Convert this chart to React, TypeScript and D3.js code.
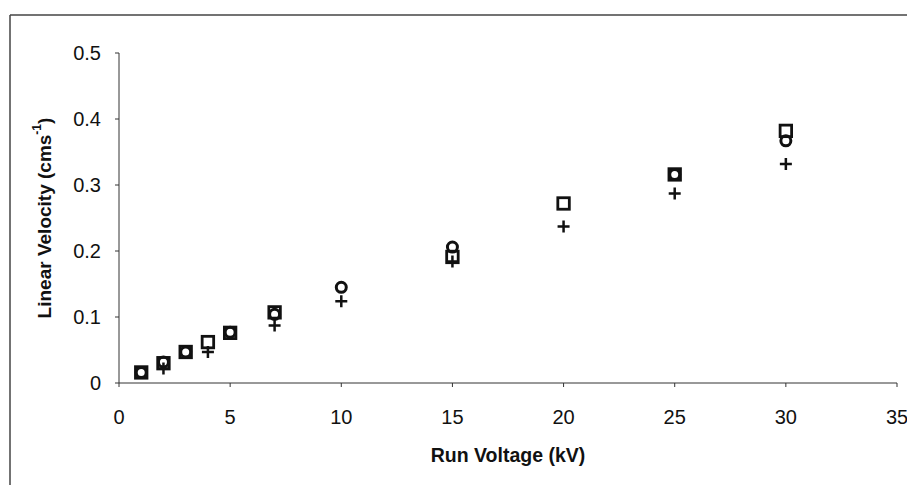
import React from "react";
import * as d3 from "d3";

const squareX = [1, 2, 3, 4, 5, 7, 15, 20, 25, 30];
const squareY = [0.016, 0.03, 0.047, 0.062, 0.076, 0.107, 0.191, 0.272, 0.316, 0.382];
const circleX = [1, 2, 3, 5, 7, 10, 15, 25, 30];
const circleY = [0.016, 0.032, 0.047, 0.077, 0.104, 0.145, 0.206, 0.316, 0.367];
const plusX = [2, 4, 7, 10, 15, 20, 25, 30];
const plusY = [0.022, 0.047, 0.087, 0.124, 0.184, 0.237, 0.287, 0.332];
const xTicks = [0, 5, 10, 15, 20, 25, 30, 35];
const yTicks = [0, 0.1, 0.2, 0.3, 0.4, 0.5];

const W = 907;
const H = 485;
const left = 119;
const right = 897;
const top = 53;
const bottom = 383;

export default function App() {
  const x = d3.scaleLinear().domain([0, 35]).range([left, right]);
  const y = d3.scaleLinear().domain([0, 0.5]).range([bottom, top]);
  const font = "'Liberation Sans', Arial, Helvetica, sans-serif";
  const ink = "#111";
  const sqSize = 11.5;
  const plusHalf = 6;

  return (
    <svg
      width={W}
      height={H}
      style={{ position: "absolute", left: 0, top: 0, background: "#fff" }}
      fontFamily={font}
    >
      <rect x={0} y={0} width={W} height={H} fill="#fff" />
      {/* frame */}
      <line x1={10} y1={15} x2={W} y2={15} stroke="#444" strokeWidth={1.5} />
      <line x1={10} y1={15} x2={10} y2={H} stroke="#444" strokeWidth={1.5} />

      {/* axes */}
      <line x1={left} y1={top} x2={left} y2={bottom} stroke="#333" strokeWidth={1} />
      <line x1={left} y1={bottom} x2={right} y2={bottom} stroke="#333" strokeWidth={1} />
      {yTicks.map((t) => (
        <g key={"y" + t}>
          <line x1={left - 4} x2={left} y1={y(t)} y2={y(t)} stroke="#333" />
          <text
            x={101}
            y={y(t)}
            textAnchor="end"
            dominantBaseline="central"
            fontSize={20}
            fill={ink}
          >
            {t === 0 ? "0" : t.toFixed(1)}
          </text>
        </g>
      ))}
      {xTicks.map((t) => (
        <g key={"x" + t}>
          <line x1={x(t)} x2={x(t)} y1={bottom} y2={bottom + 4} stroke="#333" />
          <text
            x={x(t)}
            y={417}
            textAnchor="middle"
            dominantBaseline="central"
            fontSize={20}
            fill={ink}
          >
            {t}
          </text>
        </g>
      ))}

      {/* titles */}
      <text
        x={(left + right) / 2}
        y={455}
        textAnchor="middle"
        dominantBaseline="central"
        fontSize={19.5}
        fontWeight="bold"
        fill={ink}
      >
        Run Voltage (kV)
      </text>
      <text
        transform={`translate(44, ${(top + bottom) / 2}) rotate(-90)`}
        textAnchor="middle"
        dominantBaseline="central"
        fontSize={19}
        fontWeight="bold"
        fill={ink}
      >
        Linear Velocity (cms
        <tspan fontSize={12} dy={-7}>-1</tspan>
        <tspan dy={7}>)</tspan>
      </text>

      {/* series */}
      {squareX.map((v, i) => (
        <rect
          key={"s" + i}
          x={x(v) - sqSize / 2}
          y={y(squareY[i]) - sqSize / 2}
          width={sqSize}
          height={sqSize}
          fill="none"
          stroke={ink}
          strokeWidth={2.8}
        />
      ))}
      {circleX.map((v, i) => (
        <circle
          key={"c" + i}
          cx={x(v)}
          cy={y(circleY[i])}
          r={5}
          fill="none"
          stroke={ink}
          strokeWidth={3}
        />
      ))}
      {plusX.map((v, i) => (
        <path
          key={"p" + i}
          d={`M${x(v) - plusHalf},${y(plusY[i])}H${x(v) + plusHalf}M${x(v)},${y(plusY[i]) - plusHalf}V${y(plusY[i]) + plusHalf}`}
          stroke={ink}
          strokeWidth={2.5}
          fill="none"
        />
      ))}
    </svg>
  );
}
